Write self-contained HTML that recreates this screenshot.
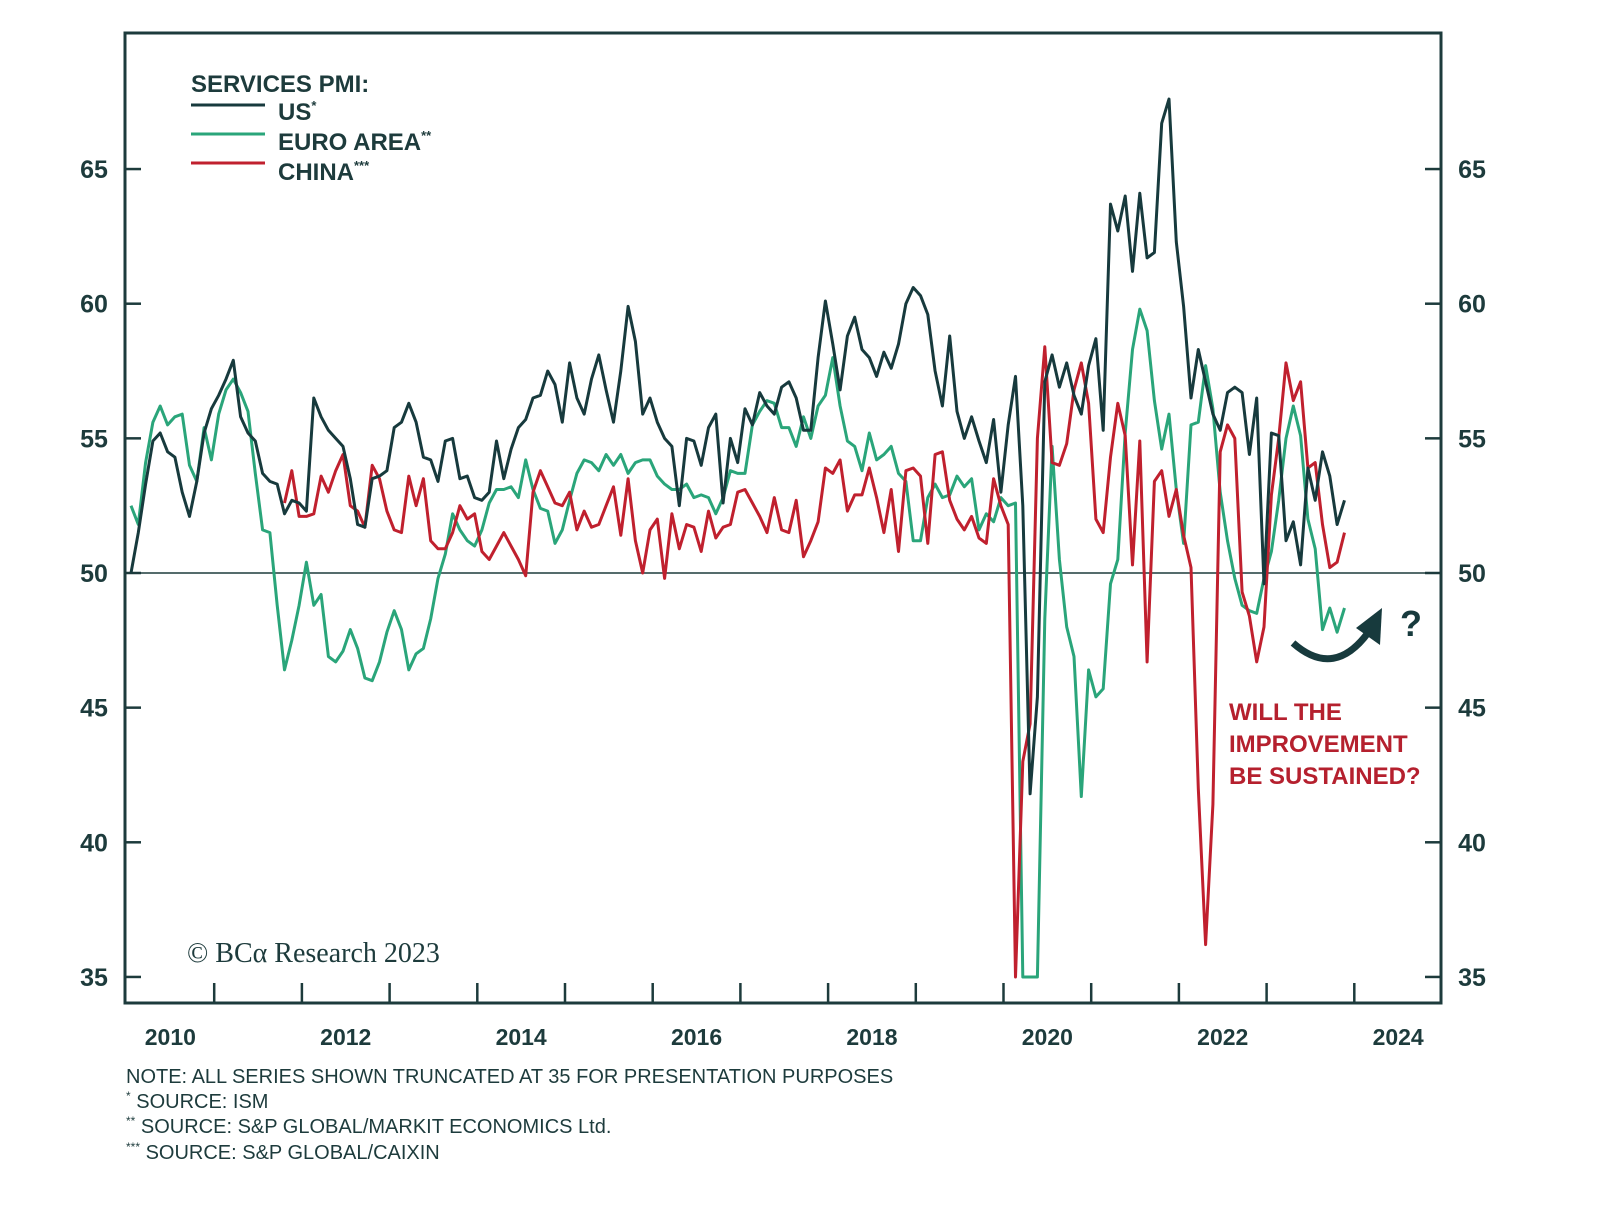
<!DOCTYPE html>
<html><head><meta charset="utf-8"><style>
body{margin:0;background:#fff;}
svg{display:block;font-family:"Liberation Sans",sans-serif;}
</style></head><body>
<svg id="chart" width="1600" height="1219" viewBox="0 0 1600 1219" xmlns="http://www.w3.org/2000/svg">
<rect x="125" y="33" width="1316" height="970" fill="none" stroke="#1d3b3c" stroke-width="3"/>
<g id="axes"></g>
<g id="series"></g>
<g font-weight="bold" font-size="24" fill="#1d3b3c">
<text x="191" y="92">SERVICES PMI:</text>
<line x1="191" y1="105" x2="265" y2="105" stroke="#173a3d" stroke-width="3"/>
<text x="278" y="120">US<tspan font-size="13" dy="-10">*</tspan></text>
<line x1="191" y1="134" x2="265" y2="134" stroke="#2aa57a" stroke-width="3"/>
<text x="278" y="150">EURO AREA<tspan font-size="13" dy="-10">**</tspan></text>
<line x1="191" y1="163" x2="265" y2="163" stroke="#c0202e" stroke-width="3"/>
<text x="278" y="180">CHINA<tspan font-size="13" dy="-10">***</tspan></text>
</g>
<text x="187" y="962" font-family="'Liberation Serif',serif" font-size="28" fill="#1d3b3c">© BCα Research 2023</text>
<g font-weight="bold" font-size="24" fill="#b5202e">
<text x="1229" y="720">WILL THE</text>
<text x="1229" y="752">IMPROVEMENT</text>
<text x="1229" y="784">BE SUSTAINED?</text>
</g>
<path d="M1293,643 Q1335,680 1370,630" fill="none" stroke="#173a3d" stroke-width="7"/>
<polygon points="1382,608 1356,628 1380,645" fill="#173a3d"/>
<text x="1400" y="636" font-weight="bold" font-size="36" fill="#173a3d">?</text>
<g font-size="20" fill="#1d3b3c">
<text x="126" y="1083">NOTE: ALL SERIES SHOWN TRUNCATED AT 35 FOR PRESENTATION PURPOSES</text>
<text x="126" y="1108"><tspan font-size="12" dy="-8">*</tspan><tspan dy="8">   SOURCE: ISM</tspan></text>
<text x="126" y="1133"><tspan font-size="12" dy="-8">**</tspan><tspan dy="8">  SOURCE: S&amp;P GLOBAL/MARKIT ECONOMICS Ltd.</tspan></text>
<text x="126" y="1159"><tspan font-size="12" dy="-8">***</tspan><tspan dy="8"> SOURCE: S&amp;P GLOBAL/CAIXIN</tspan></text>
</g>
</svg>
<script>
const yTicks=[35,40,45,50,55,60,65];
const xYears=[2011,2012,2013,2014,2015,2016,2017,2018,2019,2020,2021,2022,2023,2024];
const xLabels=[2010,2012,2014,2016,2018,2020,2022,2024];
const usValues=[50,51.5,53.3,54.9,55.2,54.5,54.3,53,52.1,53.4,55.2,56.1,
56.6,57.2,57.9,55.8,55.2,54.9,53.7,53.4,53.3,52.2,52.7,52.6,
52.3,56.5,55.8,55.3,55,54.7,53.5,51.8,51.7,53.5,53.6,53.8,
55.4,55.6,56.3,55.6,54.3,54.2,53.4,54.9,55,53.5,53.6,52.8,
52.7,53,54.9,53.5,54.6,55.4,55.7,56.5,56.6,57.5,57,55.6,
57.8,56.5,55.9,57.2,58.1,56.8,55.6,57.5,59.9,58.6,55.9,56.5,
55.6,55,54.7,52.5,55,54.9,54,55.4,55.9,52.6,55,54.1,
56.1,55.5,56.7,56.2,55.9,56.9,57.1,56.5,55.3,55.3,58,60.1,
58.5,56.8,58.8,59.5,58.3,58,57.3,58.2,57.6,58.5,60,60.6,
60.3,59.6,57.5,56.2,58.8,56,55,55.8,54.9,54.1,55.7,53,
55.5,57.3,52.5,41.8,45.4,57.1,58.1,56.9,57.8,56.6,55.9,57.7,
58.7,55.3,63.7,62.7,64.0,61.2,64.1,61.7,61.9,66.7,67.6,62.3,
59.9,56.5,58.3,57.1,55.9,55.3,56.7,56.9,56.7,54.4,56.5,49.6,
55.2,55.1,51.2,51.9,50.3,53.9,52.7,54.5,53.6,51.8,52.7];
const euroValues=[52.5,51.8,54.1,55.6,56.2,55.5,55.8,55.9,54,53.4,55.4,54.2,
55.9,56.8,57.2,56.7,56,53.7,51.6,51.5,48.8,46.4,47.5,48.8,
50.4,48.8,49.2,46.9,46.7,47.1,47.9,47.2,46.1,46,46.7,47.8,
48.6,47.9,46.4,47,47.2,48.3,49.8,50.7,52.2,51.6,51.2,51,
51.6,52.6,53.1,53.1,53.2,52.8,54.2,53.1,52.4,52.3,51.1,51.6,
52.7,53.7,54.2,54.1,53.8,54.4,54,54.4,53.7,54.1,54.2,54.2,
53.6,53.3,53.1,53.1,53.3,52.8,52.9,52.8,52.2,52.8,53.8,53.7,
53.7,55.5,56,56.4,56.3,55.4,55.4,54.7,55.8,55,56.2,56.6,
58,56.2,54.9,54.7,53.8,55.2,54.2,54.4,54.7,53.7,53.4,51.2,
51.2,52.8,53.3,52.8,52.9,53.6,53.2,53.5,51.6,52.2,51.9,52.8,
52.5,52.6,26.4,12,30.5,48.3,54.7,50.5,48,46.9,41.7,46.4,
45.4,45.7,49.6,50.5,55.2,58.3,59.8,59,56.4,54.6,55.9,53.1,
51.1,55.5,55.6,57.7,56.1,53,51.2,49.8,48.8,48.6,48.5,49.8,
50.8,52.7,55,56.2,55.1,52,50.9,47.9,48.7,47.8,48.7];
const chinaStart=21;
const chinaValues=[52.6,53.8,52.1,
52.1,52.2,53.6,53,53.8,54.4,52.5,52.3,51.7,54,53.5,52.3,
51.6,51.5,53.6,52.5,53.5,51.2,50.9,50.9,51.5,52.5,52,52.2,
50.8,50.5,51,51.5,51,50.5,49.9,53,53.8,53.2,52.6,52.5,
53,51.6,52.3,51.7,51.8,52.5,53.2,51.4,53.5,51.2,50,51.6,
52,49.8,52.2,50.9,51.8,51.7,50.8,52.3,51.3,51.7,51.8,53,
53.1,52.6,52.1,51.5,52.8,51.6,51.5,52.7,50.6,51.2,51.9,53.9,
53.7,54.2,52.3,52.9,52.9,53.9,52.8,51.5,53.1,50.8,53.8,53.9,
53.6,51.1,54.4,54.5,52.7,52,51.6,52.1,51.3,51.1,53.5,52.5,
51.8,26.5,43,44.4,55,58.4,54.1,54,54.8,56.8,57.8,56.3,
52,51.5,54.3,56.3,55.1,50.3,54.9,46.7,53.4,53.8,52.1,53.1,
51.4,50.2,42,36.2,41.4,54.5,55.5,55,49.3,48.4,46.7,48,
52.9,55,57.8,56.4,57.1,53.9,54.1,51.8,50.2,50.4,51.5];

const NS='http://www.w3.org/2000/svg';
function yScale(v){return 573-(Math.max(v,35)-50)*26.93;}
function xScale(i){return 131+i*7.31;}
function xYear(y){return 126.5+(y-2010)*87.7;}
const axes=document.getElementById('axes');
const series=document.getElementById('series');
yTicks.forEach(t=>{
  const y=yScale(t);
  const tl=document.createElementNS(NS,'line');
  
  
  tl.setAttribute('x1',125);tl.setAttribute('x2',141);tl.setAttribute('y1',y);tl.setAttribute('y2',y);
  tl.setAttribute('stroke','#1d3b3c');tl.setAttribute('stroke-width',2.5);axes.appendChild(tl);
  const tr=document.createElementNS(NS,'line');
  
  
  tr.setAttribute('x1',1425);tr.setAttribute('x2',1441);tr.setAttribute('y1',y);tr.setAttribute('y2',y);
  tr.setAttribute('stroke','#1d3b3c');tr.setAttribute('stroke-width',2.5);axes.appendChild(tr);
  const a=document.createElementNS(NS,'text');
  
  
  a.setAttribute('x',94);a.setAttribute('y',y+9);a.setAttribute('text-anchor','middle');
  a.setAttribute('font-size','25');a.setAttribute('font-weight','bold');a.setAttribute('fill','#1d3b3c');
  a.textContent=t;axes.appendChild(a);
  const b=document.createElementNS(NS,'text');
  
  
  b.setAttribute('x',1472);b.setAttribute('y',y+9);b.setAttribute('text-anchor','middle');
  b.setAttribute('font-size','25');b.setAttribute('font-weight','bold');b.setAttribute('fill','#1d3b3c');
  b.textContent=t;axes.appendChild(b);
});
const zl=document.createElementNS(NS,'line');


zl.setAttribute('x1',125);zl.setAttribute('x2',1441);zl.setAttribute('y1',yScale(50));zl.setAttribute('y2',yScale(50));
zl.setAttribute('stroke','#1d3b3c');zl.setAttribute('stroke-width',1.5);axes.appendChild(zl);
xYears.forEach(yr=>{
  const x=xYear(yr);
  const l=document.createElementNS(NS,'line');
  
  
  l.setAttribute('x1',x);l.setAttribute('x2',x);l.setAttribute('y1',983);l.setAttribute('y2',1003);
  l.setAttribute('stroke','#1d3b3c');l.setAttribute('stroke-width',2.5);axes.appendChild(l);
});
xLabels.forEach(yr=>{
  const t=document.createElementNS(NS,'text');
  
  
  t.setAttribute('x',xYear(yr+0.5));t.setAttribute('y',1045);t.setAttribute('text-anchor','middle');
  t.setAttribute('font-size','23');t.setAttribute('font-weight','bold');t.setAttribute('fill','#1d3b3c');
  t.textContent=yr;axes.appendChild(t);
});
function drawLine(vals,start,color,name){
  const p=document.createElementNS(NS,'polyline');
  
  
  p.setAttribute('points',vals.map((v,k)=>xScale(start+k).toFixed(1)+','+yScale(v).toFixed(1)).join(' '));
  p.setAttribute('fill','none');p.setAttribute('stroke',color);p.setAttribute('stroke-width',3);
  p.setAttribute('stroke-linejoin','round');
  series.appendChild(p);
}
drawLine(euroValues,0,'#2aa57a','euro-area-line');
drawLine(chinaValues,chinaStart,'#c0202e','china-line');
drawLine(usValues,0,'#173a3d','us-line');
</script>
</body></html>
